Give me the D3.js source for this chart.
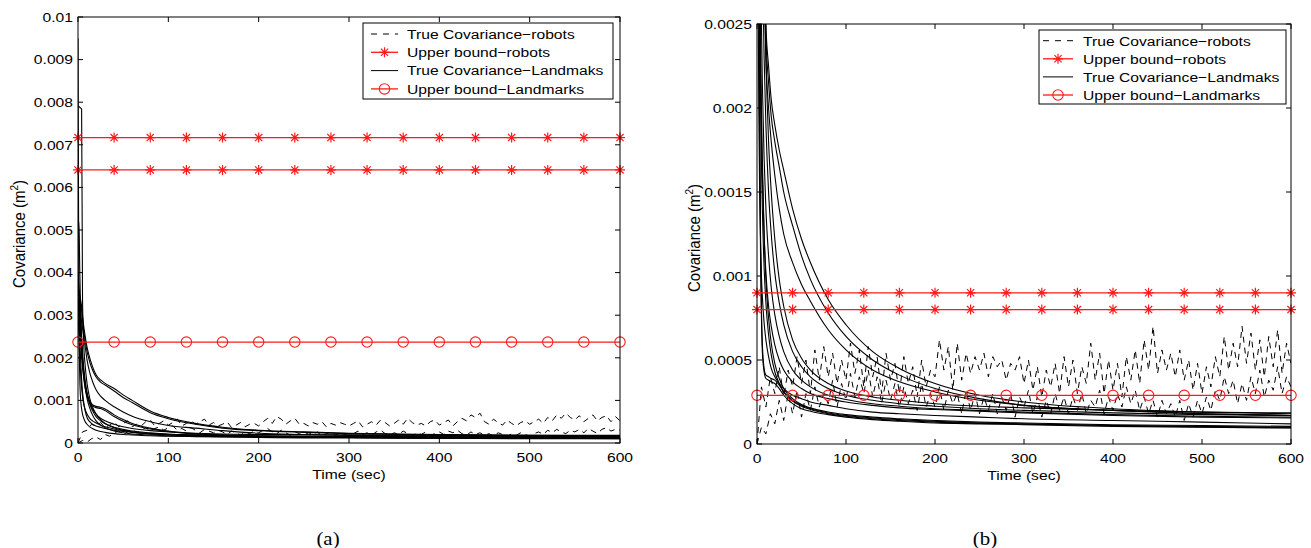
<!DOCTYPE html>
<html>
<head>
<meta charset="utf-8">
<script src="https://cdn.jsdelivr.net/npm/d3@7"></script>
<style>
  body { margin: 0; background: #fff; }
  svg text { font-family: "Liberation Sans", Arial, Helvetica, sans-serif; fill: #000; }
</style>
</head>
<body>
<svg id="fig" width="1311" height="548"></svg>
<script>
// all covariance values below are in units of 1e-5 m^2
const unit = 1e-5

const landmarkTimes = [0, 1, 2, 3, 4, 5, 6, 8, 10, 13, 16, 20, 25, 30, 40, 50, 60, 80, 100, 130, 160, 200, 250, 300, 400, 500, 600]
const robotTimes = d3.range(0, 601, 5)
const markerTimes = d3.range(0, 601, 40)

const xTicks = [0, 100, 200, 300, 400, 500, 600]
const xTickLabels = [`0`, `100`, `200`, `300`, `400`, `500`, `600`]
const yTicksA = [0, 0.001, 0.002, 0.003, 0.004, 0.005, 0.006, 0.007, 0.008, 0.009, 0.01]
const yTickLabelsA = [`0`, `0.001`, `0.002`, `0.003`, `0.004`, `0.005`, `0.006`, `0.007`, `0.008`, `0.009`, `0.01`]
const yTicksB = [0, 0.0005, 0.001, 0.0015, 0.002, 0.0025]
const yTickLabelsB = [`0`, `0.0005`, `0.001`, `0.0015`, `0.002`, `0.0025`]

const legendLabels = [`True Covariance\u2212robots`, `Upper bound\u2212robots`, `True Covariance\u2212Landmaks`, `Upper bound\u2212Landmarks`]

// panel (a)
const robotBoundsA = [0.00717, 0.00641]
const landmarkBoundA = 0.00237

const landmarksA = [
    [950, 300, 150, 100, 80, 68, 60, 50, 44, 38, 34, 30, 27, 25, 22, 20, 19, 17, 16, 15, 14, 13, 12, 12, 11, 10, 10],
    [790, 790, 788, 786, 784, 340, 250, 180, 140, 105, 85, 68, 55, 46, 36, 30, 26, 22, 19, 17, 16, 15, 14, 13, 12, 12, 11],
    [520, 520, 400, 300, 240, 200, 170, 130, 105, 82, 66, 52, 42, 36, 28, 24, 21, 19, 17, 16, 15, 14, 13, 13, 12, 12, 12],
    [360, 355, 345, 335, 320, 300, 280, 250, 225, 200, 180, 160, 148, 140, 128, 113, 100, 75, 60, 46, 37, 30, 26, 23, 20, 18, 17],
    [350, 345, 335, 325, 310, 290, 270, 240, 215, 190, 172, 155, 143, 136, 122, 107, 95, 71, 57, 44, 35, 29, 25, 22, 19, 17, 16],
    [340, 330, 315, 300, 285, 270, 255, 225, 195, 165, 145, 125, 110, 100, 85, 73, 63, 50, 41, 35, 29, 23, 20, 18, 16, 15, 14],
    [330, 320, 290, 250, 215, 185, 165, 135, 115, 98, 90, 86, 84, 80, 66, 55, 46, 35, 28, 22, 19, 16, 14, 13, 12, 11, 11],
    [320, 310, 280, 240, 205, 178, 158, 128, 110, 94, 87, 83, 81, 76, 62, 51, 43, 33, 27, 21, 18, 16, 14, 13, 12, 11, 10],
    [340, 300, 240, 190, 150, 120, 100, 75, 60, 50, 44, 40, 37, 34, 30, 27, 25, 22, 20, 18, 17, 16, 15, 14, 13, 12, 12],
    [300, 260, 200, 160, 130, 110, 95, 78, 68, 58, 52, 47, 42, 38, 33, 29, 26, 22, 20, 18, 17, 16, 15, 15, 14, 14, 14],
    [380, 360, 330, 290, 250, 215, 185, 145, 118, 92, 76, 62, 52, 45, 37, 32, 28, 24, 21, 19, 18, 17, 16, 16, 15, 15, 15],
    [400, 370, 320, 270, 230, 200, 175, 140, 115, 95, 80, 68, 58, 52, 44, 38, 34, 29, 26, 23, 21, 20, 19, 19, 18, 18, 18]
]

const robotA1 = [
    0, 26, 30, 44, 40, 48, 36, 42, 50, 38,
    46, 52, 38, 44, 40, 50, 54, 40, 46, 52,
    42, 48, 56, 40, 46, 52, 44, 50, 56, 42,
    48, 40, 44, 50, 36, 42, 48, 38, 44, 46,
    40, 50, 58, 46, 62, 56, 44, 52, 58, 44,
    46, 40, 48, 44, 50, 38, 46, 42, 48, 44,
    40, 46, 52, 38, 44, 50, 42, 54, 48, 40,
    46, 54, 44, 58, 48, 42, 46, 40, 50, 54,
    42, 48, 54, 40, 50, 58, 52, 66, 60, 70,
    50, 44, 56, 48, 42, 54, 46, 40, 48, 52,
    44, 50, 56, 46, 60, 52, 66, 58, 70, 60,
    54, 64, 50, 58, 66, 52, 60, 64, 50, 62,
    52
]
const robotA2 = [
    0, 6, 2, 10, 14, 8, 20, 16, 24, 28,
    20, 26, 32, 24, 30, 36, 28, 34, 38, 30,
    36, 40, 30, 34, 28, 36, 30, 24, 32, 28,
    24, 30, 26, 20, 28, 24, 18, 26, 22, 28,
    24, 30, 34, 26, 22, 30, 24, 18, 26, 22,
    18, 24, 20, 26, 16, 22, 26, 18, 24, 20,
    16, 22, 28, 20, 24, 18, 26, 30, 22, 18,
    24, 20, 28, 22, 16, 24, 20, 26, 18, 22,
    26, 20, 28, 24, 30, 22, 18, 26, 20, 24,
    18, 22, 16, 24, 20, 14, 22, 18, 24, 20,
    16, 22, 26, 20, 30, 24, 32, 26, 22, 30,
    26, 32, 24, 34, 28, 22, 32, 36, 28, 32,
    30
]

// panel (b)
const robotBoundsB = [0.0009, 0.0008]
const landmarkBoundB = 0.00029

const landmarksB = [
    [900, 800, 700, 600, 520, 450, 400, 320, 250, 225, 205, 190, 175, 163, 140, 122, 108, 86, 71, 55, 45, 36, 29, 25, 21, 19, 18],
    [880, 780, 680, 580, 500, 430, 380, 300, 245, 215, 195, 180, 165, 150, 130, 112, 98, 78, 64, 50, 41, 33, 27, 23, 20, 18, 17],
    [850, 740, 640, 550, 470, 400, 350, 280, 230, 200, 180, 160, 140, 125, 108, 95, 85, 68, 56, 44, 37, 31, 26, 23, 20, 18, 17],
    [500, 300, 200, 150, 120, 100, 88, 72, 62, 52, 45, 40, 36, 33, 29, 27, 25, 23, 21, 19, 18, 17, 16, 15, 14, 13, 12],
    [900, 600, 350, 200, 120, 80, 60, 45, 41, 40, 39, 38, 35, 31, 26, 23, 21, 18.5, 17, 15.5, 14.5, 13.5, 12.5, 12, 11, 10.5, 10],
    [800, 500, 300, 180, 110, 75, 55, 43, 39, 38, 37, 36, 33, 29, 24, 21, 19.5, 17.5, 16, 14.5, 13.5, 12.5, 12, 11.5, 10.5, 10, 9.5],
    [700, 500, 380, 300, 240, 200, 170, 125, 98, 75, 60, 48, 39, 33, 27, 23.5, 21.5, 19, 17.5, 16, 15, 14, 13, 12.5, 11.5, 11, 10.5],
    [650, 460, 340, 260, 205, 168, 140, 105, 84, 65, 53, 43, 36, 31, 25.5, 22.5, 20.5, 18, 16.5, 15, 14, 13, 12.3, 11.8, 11, 10.2, 9.7],
    [800, 600, 450, 350, 290, 250, 215, 170, 140, 112, 93, 77, 64, 55, 44, 38, 34, 29, 26.5, 24, 22.5, 21, 20, 19, 17.5, 16.5, 16],
    [900, 700, 550, 450, 380, 330, 290, 230, 190, 150, 125, 102, 84, 71, 55, 46, 40, 33, 29, 26, 24, 22.5, 21, 20, 18.5, 17.5, 17],
    [600, 450, 340, 270, 220, 185, 160, 125, 102, 82, 70, 59, 50, 44, 37, 33, 30, 27, 25, 23, 21.5, 20.5, 19.5, 18.5, 17, 16, 15.5],
    [1000, 800, 650, 540, 460, 400, 350, 280, 230, 180, 150, 122, 98, 82, 62, 51, 44, 36, 31.5, 28, 26, 24, 22.5, 21.5, 20, 19, 18.5]
]

const robotB1 = [
    0, 34, 22, 40, 30, 46, 28, 44, 34, 52,
    36, 50, 30, 56, 38, 58, 40, 54, 36, 50,
    38, 60, 42, 56, 34, 58, 40, 52, 30, 54,
    38, 48, 30, 52, 36, 46, 28, 50, 34, 44,
    40, 62, 44, 58, 32, 60, 38, 54, 42, 52,
    44, 54, 40, 52, 46, 50, 38, 48, 44, 52,
    36, 50, 32, 46, 28, 44, 34, 48, 30, 52,
    34, 50, 30, 46, 36, 60, 38, 54, 30, 50,
    32, 48, 28, 52, 38, 56, 36, 62, 44, 70,
    42, 56, 44, 54, 40, 56, 38, 50, 32, 48,
    30, 46, 34, 52, 40, 64, 44, 60, 46, 70,
    48, 66, 44, 62, 40, 64, 46, 68, 42, 60,
    48
]
const robotB2 = [
    0, 10, 6, 18, 12, 26, 14, 30, 18, 32,
    16, 30, 20, 34, 22, 30, 24, 38, 22, 36,
    26, 42, 28, 40, 30, 44, 28, 40, 24, 38,
    26, 36, 22, 34, 24, 32, 20, 36, 22, 30,
    22, 34, 20, 32, 24, 30, 18, 32, 20, 30,
    18, 28, 20, 30, 18, 28, 20, 30, 16, 28,
    22, 32, 18, 28, 16, 26, 18, 30, 20, 28,
    18, 28, 20, 30, 18, 26, 22, 32, 18, 28,
    20, 30, 22, 34, 24, 32, 20, 28, 18, 26,
    16, 26, 18, 24, 16, 26, 14, 24, 16, 26,
    18, 28, 20, 32, 26, 40, 30, 38, 24, 36,
    26, 40, 30, 44, 28, 38, 32, 46, 30, 40,
    34
]

const SX = 1.16 // the source figure is stretched horizontally, so are its glyphs
const RED = `#ff1a1a`
const STAR = `M-5,0H5M0,-5V5M-3.6,-3.6L3.6,3.6M-3.6,3.6L3.6,-3.6`

const svg = d3.select(`#fig`)

function placeText(sel, x, y, rot) {
    return sel.attr(`transform`, `translate(${x},${y}) scale(${SX},1)` + (rot ? ` rotate(${rot})` : ``))
}

function drawMarker(g, kind, x, y) {
    if(kind === `star`)
        g.append(`path`).attr(`d`, STAR).attr(`transform`, `translate(${x},${y})`).attr(`stroke`, RED).attr(`stroke-width`, 1.2).attr(`fill`, `none`)
    else
        g.append(`circle`).attr(`cx`, x).attr(`cy`, y).attr(`r`, 5.2).attr(`stroke`, RED).attr(`stroke-width`, 1.1).attr(`fill`, `none`)
}

function drawPanel(p) {
    const x = d3.scaleLinear().domain([0, 600]).range([p.left, p.right])
    const y = d3.scaleLinear().domain([0, p.yMax]).range([p.bottom, p.top])
    const g = svg.append(`g`)

    g.append(`clipPath`).attr(`id`, p.id).append(`rect`)
        .attr(`x`, p.left).attr(`y`, p.top).attr(`width`, p.right - p.left).attr(`height`, p.bottom - p.top)

    const plot = g.append(`g`).attr(`clip-path`, `url(#${p.id})`)

    const robotLine = d3.line().x((d, i) => x(robotTimes[i])).y(d => y(d * unit))
    const landLine = d3.line().x((d, i) => x(landmarkTimes[i])).y(d => y(d * unit)).curve(d3.curveMonotoneX)

    p.robots.forEach(r => {
        plot.append(`path`).attr(`d`, robotLine(r)).attr(`fill`, `none`).attr(`stroke`, `#000`)
            .attr(`stroke-width`, 1).attr(`stroke-dasharray`, `6,5`)
    })

    p.landmarks.forEach(l => {
        plot.append(`path`).attr(`d`, landLine(l)).attr(`fill`, `none`).attr(`stroke`, `#000`).attr(`stroke-width`, 1.1)
    })

    // upper bounds: lines clipped, markers drawn over the frame
    const bounds = p.robotBounds.map(v => ({ v, kind: `star` })).concat([{ v: p.landmarkBound, kind: `circle` }])
    bounds.forEach(b => {
        plot.append(`line`).attr(`x1`, x(0)).attr(`x2`, x(600)).attr(`y1`, y(b.v)).attr(`y2`, y(b.v))
            .attr(`stroke`, RED).attr(`stroke-width`, 1.3)
        markerTimes.forEach(t => drawMarker(g, b.kind, x(t), y(b.v)))
    })

    // frame and inward ticks on all four sides
    g.append(`rect`).attr(`x`, p.left).attr(`y`, p.top).attr(`width`, p.right - p.left).attr(`height`, p.bottom - p.top)
        .attr(`fill`, `none`).attr(`stroke`, `#000`).attr(`stroke-width`, 1)

    xTicks.forEach((t, i) => {
        g.append(`line`).attr(`x1`, x(t)).attr(`x2`, x(t)).attr(`y1`, p.bottom).attr(`y2`, p.bottom - 5).attr(`stroke`, `#000`)
        g.append(`line`).attr(`x1`, x(t)).attr(`x2`, x(t)).attr(`y1`, p.top).attr(`y2`, p.top + 5).attr(`stroke`, `#000`)
        placeText(g.append(`text`).attr(`text-anchor`, `middle`).attr(`font-size`, 13.5).text(xTickLabels[i]), x(t), p.bottom + 19)
    })

    p.yTicks.forEach((v, i) => {
        g.append(`line`).attr(`x1`, p.left).attr(`x2`, p.left + 5).attr(`y1`, y(v)).attr(`y2`, y(v)).attr(`stroke`, `#000`)
        g.append(`line`).attr(`x1`, p.right).attr(`x2`, p.right - 5).attr(`y1`, y(v)).attr(`y2`, y(v)).attr(`stroke`, `#000`)
        placeText(g.append(`text`).attr(`text-anchor`, `end`).attr(`font-size`, 13.5).text(p.yTickLabels[i]), p.left - 5, y(v) + 4.8)
    })

    placeText(g.append(`text`).attr(`text-anchor`, `middle`).attr(`font-size`, 13.5).text(`Time (sec)`),
        (p.left + p.right) / 2, p.bottom + 36)

    const yl = placeText(g.append(`text`).attr(`text-anchor`, `middle`).attr(`font-size`, 15), p.yLabelX, (p.top + p.bottom) / 2 + 4, -90)
    yl.append(`tspan`).text(`Covariance (m`)
    yl.append(`tspan`).attr(`font-size`, 10).attr(`dy`, -6).text(`2`)
    yl.append(`tspan`).attr(`dy`, 6).text(`)`)

    placeText(g.append(`text`).attr(`text-anchor`, `middle`).attr(`font-size`, 18)
        .style(`font-family`, `"Liberation Serif", "Times New Roman", serif`).text(p.caption), p.captionX, 545)

    // legend
    const L = p.legend
    const lg = g.append(`g`)
    lg.append(`rect`).attr(`x`, L.x).attr(`y`, L.y).attr(`width`, L.w).attr(`height`, L.h)
        .attr(`fill`, `#fff`).attr(`stroke`, `#000`).attr(`stroke-width`, 1)
    const styles = [
        { stroke: `#000`, dash: `6,6`, marker: null },
        { stroke: RED, dash: null, marker: `star` },
        { stroke: `#000`, dash: null, marker: null },
        { stroke: RED, dash: null, marker: `circle` }
    ]
    legendLabels.forEach((label, i) => {
        const cy = L.y + L.rowTop + i * L.rowStep
        const s = styles[i]
        lg.append(`line`).attr(`x1`, L.x + L.lineX0).attr(`x2`, L.x + L.lineX1).attr(`y1`, cy).attr(`y2`, cy)
            .attr(`stroke`, s.stroke).attr(`stroke-width`, s.stroke === RED ? 1.3 : 1).attr(`stroke-dasharray`, s.dash)
        if(s.marker) drawMarker(lg, s.marker, L.x + (L.lineX0 + L.lineX1) / 2, cy)
        placeText(lg.append(`text`).attr(`font-size`, 13.5).text(label), L.x + L.textX, cy + 4.8)
    })
}

drawPanel({
    id: `clipA`, left: 78, right: 620, top: 17, bottom: 443, yMax: 0.01,
    yTicks: yTicksA, yTickLabels: yTickLabelsA,
    landmarks: landmarksA, robots: [robotA1, robotA2],
    robotBounds: robotBoundsA, landmarkBound: landmarkBoundA,
    yLabelX: 25, caption: `(a)`, captionX: 328,
    legend: { x: 363, y: 23, w: 250, h: 76, rowTop: 11, rowStep: 18.3, lineX0: 8, lineX1: 35, textX: 44 }
})

drawPanel({
    id: `clipB`, left: 757, right: 1291, top: 24, bottom: 444, yMax: 0.0025,
    yTicks: yTicksB, yTickLabels: yTickLabelsB,
    landmarks: landmarksB, robots: [robotB1, robotB2],
    robotBounds: robotBoundsB, landmarkBound: landmarkBoundB,
    yLabelX: 700, caption: `(b)`, captionX: 985,
    legend: { x: 1039, y: 30, w: 247, h: 74, rowTop: 10.7, rowStep: 18.1, lineX0: 4, lineX1: 34, textX: 44 }
})
</script>
</body>
</html>
